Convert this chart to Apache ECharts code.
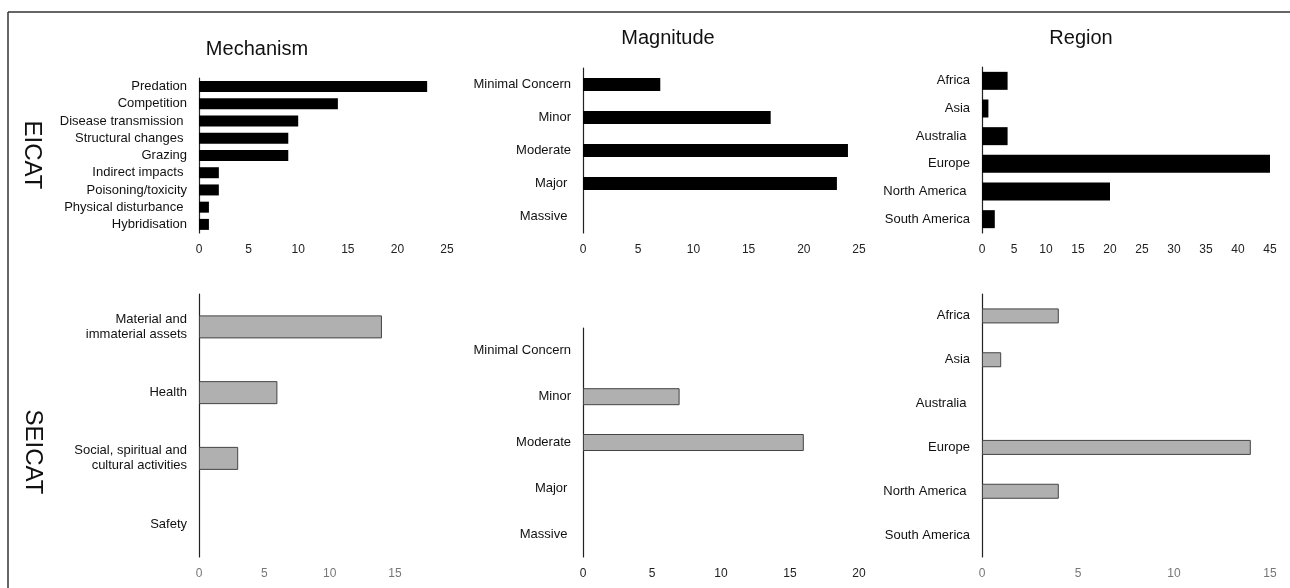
<!DOCTYPE html>
<html>
<head>
<meta charset="utf-8">
<script src="https://cdn.jsdelivr.net/npm/echarts@6/dist/echarts.min.js"></script>
<style>
  html, body { margin: 0; padding: 0; background: #fff; }
  #chart { width: 1290px; height: 588px; }
</style>
</head>
<body>
<div id="chart"></div>
<script>
// categories (trailing spaces kept as in the original labels)
var mechCats = ['Predation', 'Competition', 'Disease transmission ', 'Structural changes ', 'Grazing',
                'Indirect impacts ', 'Poisoning/toxicity', 'Physical disturbance ', 'Hybridisation'];
var magCats = ['Minimal Concern', 'Minor', 'Moderate', 'Major ', 'Massive '];
var regCats = ['Africa', 'Asia', 'Australia ', 'Europe', 'North America ', 'South America'];
var socCats = ['Material and\nimmaterial assets', 'Health', 'Social, spiritual and\ncultural activities', 'Safety'];

// EICAT counts
var mechEicat = [23, 14, 10, 9, 9, 2, 2, 1, 1];
var magEicat = [7, 17, 24, 23, 0];
var regEicat = [4, 1, 4, 45, 20, 2];

// SEICAT counts
var mechSeicat = [14, 6, 3, 0];
var magSeicat = [0, 7, 16, 0, 0];
var regSeicat = [4, 1, 0, 14, 4, 0];

// axis maxima
var xMax = [25, 25, 45, 15, 20, 15];

var FONT = '"Liberation Sans", Arial, sans-serif';
var chart = echarts.init(document.getElementById('chart'));

var grids = [
  { left: 199, top: 78, width: 248, height: 155 },
  { left: 583, top: 68, width: 276, height: 165 },
  { left: 982, top: 67, width: 288, height: 166 },
  { left: 199, top: 294, width: 196, height: 263 },
  { left: 583, top: 328, width: 276, height: 229 },
  { left: 982, top: 294, width: 288, height: 263 }
];
var cats = [mechCats, magCats, regCats, socCats, magCats, regCats];
var vals = [mechEicat, magEicat, regEicat, mechSeicat, magSeicat, regSeicat];
var barW = [11, 13, 18, 23, 17, 15];
var tickColor = ['#222', '#222', '#222', '#777', '#222', '#777'];

var xAxes = [], yAxes = [], series = [];
for (var i = 0; i < 6; i++) {
  xAxes.push({
    gridIndex: i, type: 'value', min: 0, max: xMax[i], interval: 5,
    axisLine: { show: false }, axisTick: { show: false }, splitLine: { show: false },
    axisLabel: { color: tickColor[i], fontSize: 12, fontFamily: FONT, margin: 11 }
  });
  yAxes.push({
    gridIndex: i, type: 'category', data: cats[i], inverse: true,
    axisLine: { show: true, lineStyle: { color: '#222', width: 1.2 } },
    axisTick: { show: false },
    axisLabel: { color: '#111', fontSize: 13, fontFamily: FONT, margin: 12, lineHeight: 15 }
  });
  var bottom = i >= 3;
  series.push({
    type: 'bar', xAxisIndex: i, yAxisIndex: i, barWidth: barW[i], silent: true,
    // empty categories draw no outline
    data: vals[i].map(function (v) {
      return v === 0 ? { value: v, itemStyle: { borderWidth: 0, opacity: 0 } } : v;
    }),
    itemStyle: bottom
      ? { color: '#b0b0b0', borderColor: '#444', borderWidth: 1 }
      : { color: '#000' }
  });
}

function label(text, x, y, size, rot) {
  return {
    type: 'text', x: x, y: y, rotation: rot || 0, silent: true,
    style: { text: text, fill: '#111', font: size + 'px ' + FONT, align: 'center', verticalAlign: 'middle' }
  };
}

chart.setOption({
  animation: false,
  backgroundColor: '#fff',
  grid: grids,
  xAxis: xAxes,
  yAxis: yAxes,
  series: series,
  graphic: [
    { type: 'line', silent: true, shape: { x1: 8, y1: 12, x2: 1290, y2: 12 }, style: { stroke: '#333', lineWidth: 1.5 } },
    { type: 'line', silent: true, shape: { x1: 8, y1: 12, x2: 8, y2: 588 }, style: { stroke: '#333', lineWidth: 1.5 } },
    label('Mechanism', 257, 49, 20),
    label('Magnitude', 668, 38, 20),
    label('Region', 1081, 38, 20),
    label('EICAT', 32, 155, 24, -Math.PI / 2),
    label('SEICAT', 33, 452, 24, -Math.PI / 2)
  ]
});
</script>
</body>
</html>
